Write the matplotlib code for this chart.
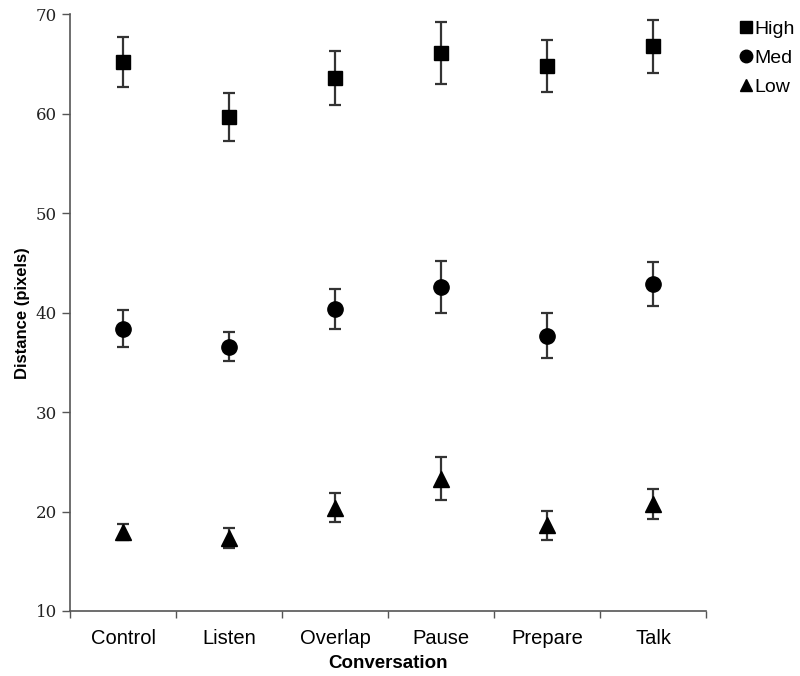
import matplotlib
matplotlib.use("Agg")
import matplotlib.pyplot as plt
from matplotlib.lines import Line2D
import numpy as np

categories = ["Control", "Listen", "Overlap", "Pause", "Prepare", "Talk"]
high_mean = [65.2, 59.7, 63.6, 66.1, 64.8, 66.8]
high_err = [2.5, 2.4, 2.7, 3.1, 2.6, 2.65]
med_mean = [38.4, 36.6, 40.4, 42.6, 37.7, 42.9]
med_err = [1.85, 1.5, 2.0, 2.6, 2.3, 2.2]
low_mean = [17.9, 17.3, 20.4, 23.3, 18.6, 20.8]
low_err = [0.8, 1.0, 1.5, 2.15, 1.5, 1.5]
series_names = ["High", "Med", "Low"]

fig = plt.figure(figsize=(8, 6.76), dpi=100)
ax = fig.add_axes([0.0875, 0.0962, 0.795, 0.8824])

x = np.arange(len(categories))
specs = [(high_mean, high_err, "s", 10), (med_mean, med_err, "o", 11), (low_mean, low_err, "^", 11)]
handles = []
for (m, e, mk, ms), name in zip(specs, series_names):
    ax.errorbar(x, m, yerr=e, fmt="none", ecolor="#333333", elinewidth=1.6,
                capsize=4, capthick=1.6, zorder=2)
    ax.plot(x, m, linestyle="none", marker=mk, markersize=ms, color="black", zorder=3)
    handles.append(Line2D([], [], linestyle="none", marker=mk, markersize=9, color="black", label=name))

ax.set_xlim(-0.5, len(categories) - 0.5)
ax.set_ylim(10, 70)
ax.set_yticks([10, 20, 30, 40, 50, 60, 70])
ax.set_xticks(x)
ax.set_xticklabels(categories, fontsize=14.5, family="Liberation Sans")
ax.set_xticks(np.arange(-0.5, len(categories)), minor=True)
ax.tick_params(axis="x", which="major", length=0, pad=13)
ax.tick_params(axis="x", which="minor", length=5, width=1, color="#555555")
ax.tick_params(axis="y", length=6, width=1, color="#555555", labelsize=12)
for lab in ax.get_yticklabels():
    lab.set_family("DejaVu Serif")
    lab.set_color("#222222")

for s in ["top", "right"]:
    ax.spines[s].set_visible(False)
for s in ["left", "bottom"]:
    ax.spines[s].set_color("#555555")
    ax.spines[s].set_linewidth(1.2)

ax.set_xlabel("Conversation", fontsize=13.5, fontweight="bold", family="Liberation Sans", labelpad=5)
ax.set_ylabel("Distance (pixels)", fontsize=12, fontweight="bold", family="Liberation Sans", labelpad=4)

fig.legend(handles=handles, loc="upper left", bbox_to_anchor=(0.915, 0.982), frameon=False,
           handlelength=0.6, handletextpad=0.15, labelspacing=0.6, borderaxespad=0,
           prop={"family": "Liberation Sans", "size": 14})

fig.savefig("out.png", dpi=100)
